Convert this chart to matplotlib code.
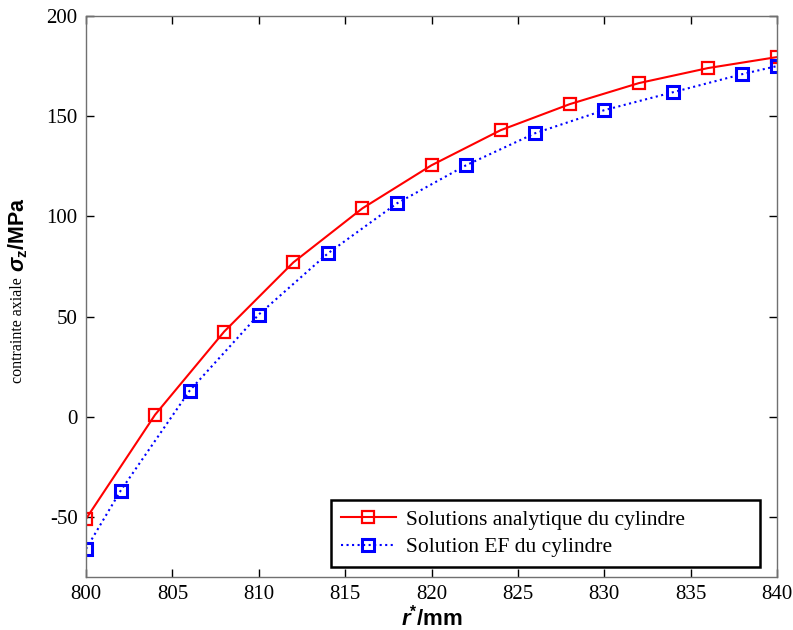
import matplotlib
matplotlib.use('Agg')
import matplotlib.pyplot as plt

# data
r_analytic = [800, 804, 808, 812, 816, 820, 824, 828, 832, 836, 840]
sigma_analytic = [-51, 1, 42.5, 77, 104, 125.5, 143, 156, 166.5, 174, 179.5]

r_ef = [800, 802, 806, 810, 814, 818, 822, 826, 830, 834, 838, 840]
sigma_ef = [-66, -37, 13, 51, 81.5, 106.5, 125.5, 141.5, 153, 162, 171, 175]

xticks = [800, 805, 810, 815, 820, 825, 830, 835, 840]
yticks = [-50, 0, 50, 100, 150, 200]

plt.rcParams['font.family'] = 'Liberation Serif'
plt.rcParams['axes.unicode_minus'] = False
plt.rcParams['mathtext.fontset'] = 'custom'
plt.rcParams['mathtext.rm'] = 'Liberation Sans'
plt.rcParams['mathtext.it'] = 'Liberation Sans:italic'
plt.rcParams['mathtext.bf'] = 'Liberation Sans:bold'
plt.rcParams['mathtext.bfit'] = 'Liberation Sans:italic:bold'

fig = plt.figure(figsize=(7.93, 6.30), dpi=100)
ax = fig.add_axes([86 / 793, 1 - 577 / 630, (777 - 86) / 793, (577 - 16) / 630])

ax.plot(r_analytic, sigma_analytic, '-', color='red', lw=1.5,
        marker='s', ms=8, mfc='none', mec='red', mew=1.6,
        label='Solutions analytique du cylindre')
ax.plot(r_ef, sigma_ef, ':', color='blue', lw=1.5,
        marker='s', ms=8, mfc='none', mec='blue', mew=2.2,
        label='Solution EF du cylindre')

ax.set_xlim(800, 840)
ax.set_ylim(-80, 200)
ax.set_xticks(xticks)
ax.set_yticks(yticks)
ax.tick_params(direction='in', top=True, right=True, length=6, width=1,
               labelsize=15, pad=6)
for s in ax.spines.values():
    s.set_color('#707070')
    s.set_linewidth(1)

ax.set_xlabel(r'$\mathbfit{r}\mathbf{^{*}/mm}$', fontsize=16, labelpad=0)

# y label: serif part plus bold sans part
fig.text(18 / 793, 1 - 330 / 630, 'contrainte axiale', rotation=90,
         ha='center', va='center', fontsize=11.5)
fig.text(18 / 793, 1 - 235 / 630, r'$\mathbfit{\sigma}_{\mathbf{z}}\mathbf{/MPa}$',
         rotation=90, ha='center', va='center', fontsize=15.5)

# legend box spans x 331..760 px, bottom at 567 px
x0 = (331 - 86) / 691
w = (760 - 331) / 691
leg = ax.legend(loc='lower left', bbox_to_anchor=(x0, 0.018, w, 0.1),
                mode='expand', fontsize=15.5,
                fancybox=False, framealpha=1, edgecolor='black',
                handlelength=2.55, handletextpad=0.5, borderpad=0.45,
                labelspacing=0.35, borderaxespad=0)
leg.get_frame().set_linewidth(1.8)

fig.savefig('out.png', dpi=100)
